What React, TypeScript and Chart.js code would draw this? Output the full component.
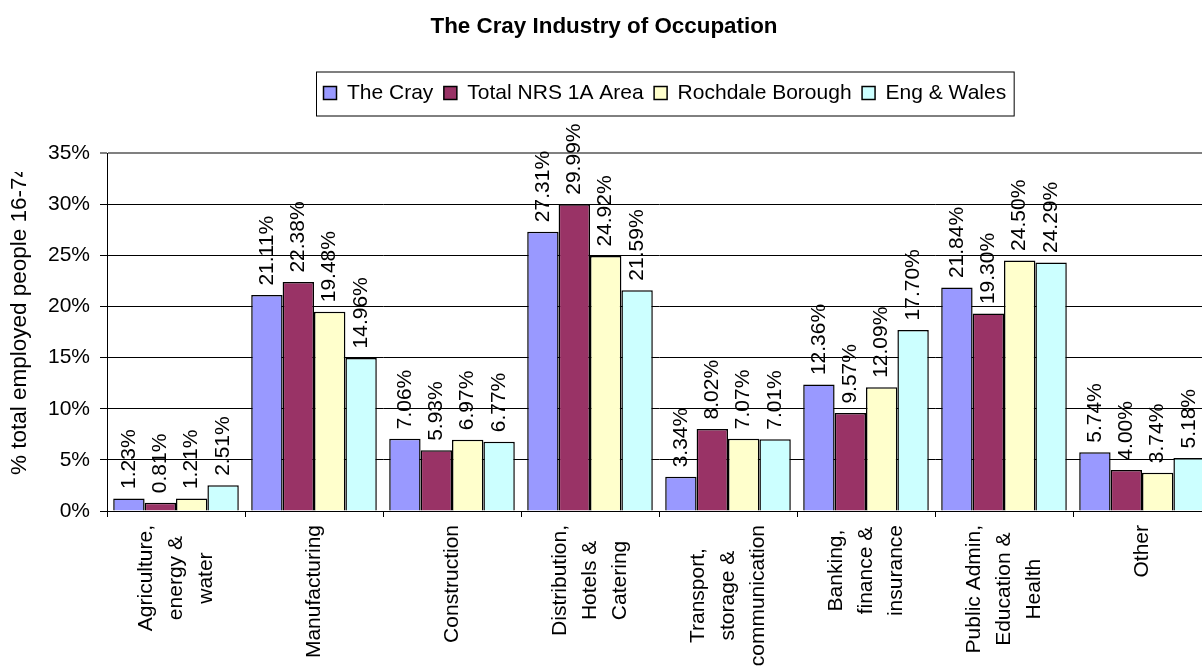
import React, { useEffect, useRef } from "react";
import { Chart, registerables } from "chart.js";

Chart.register(...registerables);

const TITLE = "The Cray Industry of Occupation";
const Y_TITLE = "% total employed people 16-74";

const CATEGORY_LINES: string[][] = [
  ["Agriculture,", "energy &", "water"],
  ["Manufacturing"],
  ["Construction"],
  ["Distribution,", "Hotels &", "Catering"],
  ["Transport,", "storage &", "communication"],
  ["Banking,", "finance &", "insurance"],
  ["Public Admin,", "Education &", "Health"],
  ["Other"],
];

const SERIES_NAMES = ["The Cray", "Total NRS 1A Area", "Rochdale Borough", "Eng & Wales"];
const SERIES_COLORS = ["#9999FF", "#993366", "#FFFFCC", "#CCFFFF"];

const THE_CRAY = [1.23, 21.11, 7.06, 27.31, 3.34, 12.36, 21.84, 5.74];
const TOTAL_NRS = [0.81, 22.38, 5.93, 29.99, 8.02, 9.57, 19.3, 4.0];
const ROCHDALE = [1.21, 19.48, 6.97, 24.92, 7.07, 12.09, 24.5, 3.74];
const ENG_WALES = [2.51, 14.96, 6.77, 21.59, 7.01, 17.7, 24.29, 5.18];

const Y_MIN = 0;
const Y_MAX = 35;
const Y_STEP = 5;

const FONT = "'Liberation Sans', Arial, sans-serif";
const CANVAS_W = 1240;
const CANVAS_H = 666;

const customDraw = {
  id: "customDraw",
  afterDatasetsDraw(chart: any) {
    const ctx = chart.ctx;
    ctx.save();
    ctx.fillStyle = "#000";
    ctx.font = `21px ${FONT}`;
    ctx.textAlign = "left";
    ctx.textBaseline = "middle";
    chart.data.datasets.forEach((ds: any, di: number) => {
      const meta = chart.getDatasetMeta(di);
      meta.data.forEach((bar: any, i: number) => {
        const v = ds.data[i];
        ctx.save();
        ctx.translate(bar.x, bar.y - 9.5);
        ctx.rotate(-Math.PI / 2);
        ctx.fillText(v.toFixed(2) + "%", 0, 0);
        ctx.restore();
      });
    });
    ctx.restore();
  },
  afterDraw(chart: any) {
    const ctx = chart.ctx;
    ctx.save();
    ctx.fillStyle = "#000";

    // Title
    ctx.font = `bold 22.4px ${FONT}`;
    ctx.textAlign = "center";
    ctx.textBaseline = "alphabetic";
    ctx.fillText(TITLE, 604, 32.5);

    // Legend
    ctx.font = `21px ${FONT}`;
    ctx.textAlign = "left";
    ctx.textBaseline = "alphabetic";
    let x = 323;
    const itemEnds: number[] = [];
    SERIES_NAMES.forEach((name, i) => {
      ctx.fillStyle = SERIES_COLORS[i];
      ctx.fillRect(x + 0.5, 86.5, 13, 13);
      ctx.strokeStyle = "#000";
      ctx.lineWidth = 1.5;
      ctx.strokeRect(x + 0.5, 86.5, 13, 13);
      ctx.fillStyle = "#000";
      ctx.fillText(name, x + 24, 99.3);
      const w = ctx.measureText(name).width;
      itemEnds.push(x + 24 + w);
      x = x + 24 + w + 10;
    });
    const boxRight = itemEnds[itemEnds.length - 1] + 8;
    ctx.strokeStyle = "#000";
    ctx.lineWidth = 1;
    ctx.strokeRect(316.5, 72, boxRight - 316.5, 44);

    // Y axis title (clipped at top as in the original)
    ctx.save();
    ctx.beginPath();
    ctx.rect(0, 172, 60, 400);
    ctx.clip();
    ctx.font = `22.5px ${FONT}`;
    ctx.translate(20, 320);
    ctx.rotate(-Math.PI / 2);
    ctx.textAlign = "center";
    ctx.textBaseline = "middle";
    ctx.fillText(Y_TITLE, 0, 0);
    ctx.restore();

    // Category labels (rotated, multi-line, centred lines)
    const xs = chart.scales.x;
    ctx.font = `21px ${FONT}`;
    ctx.textAlign = "center";
    ctx.textBaseline = "middle";
    const pitch = 30;
    CATEGORY_LINES.forEach((lines, i) => {
      const cx = xs.getPixelForValue(i);
      const maxW = Math.max(...lines.map((l) => ctx.measureText(l).width));
      const cy = xs.bottom - 155 + 14 + maxW / 2;
      lines.forEach((line, k) => {
        const lx = cx + (k - (lines.length - 1) / 2) * pitch;
        ctx.save();
        ctx.translate(lx, cy);
        ctx.rotate(-Math.PI / 2);
        ctx.fillText(line, 0, 0);
        ctx.restore();
      });
    });
    ctx.restore();
  },
};

export default function App() {
  const ref = useRef<HTMLCanvasElement>(null);
  useEffect(() => {
    if (!ref.current) return;
    const datasets = [THE_CRAY, TOTAL_NRS, ROCHDALE, ENG_WALES].map((d, i) => ({
      label: SERIES_NAMES[i],
      data: d,
      backgroundColor: SERIES_COLORS[i],
      borderColor: "#000",
      borderWidth: 1.5,
      categoryPercentage: 0.91,
      barPercentage: 1,
    }));
    const chart = new Chart(ref.current, {
      type: "bar",
      data: {
        labels: CATEGORY_LINES.map((l) => l.join(" ")),
        datasets,
      },
      options: {
        animation: false,
        responsive: false,
        devicePixelRatio: 1,
        layout: { padding: { left: 0, right: CANVAS_W - 1211, top: 153, bottom: 0 } },
        plugins: {
          legend: { display: false },
          title: { display: false },
          tooltip: { enabled: false },
        },
        scales: {
          x: {
            afterFit: (s: any) => {
              s.height = CANVAS_H - 511;
            },
            ticks: { display: false },
            grid: {
              display: true,
              offset: true,
              drawOnChartArea: false,
              drawTicks: true,
              tickLength: 6,
              color: "#000",
            },
            border: { display: true, color: "#000", width: 1 },
          },
          y: {
            min: Y_MIN,
            max: Y_MAX,
            afterFit: (s: any) => {
              s.width = 107;
            },
            ticks: {
              stepSize: Y_STEP,
              color: "#000",
              font: { family: FONT, size: 21 },
              padding: 10,
              callback: (v: any) => v + "%",
            },
            grid: {
              drawTicks: true,
              tickLength: 7,
              color: (c: any) => (c.tick && c.tick.value === Y_MAX ? "#808080" : "#000"),
              lineWidth: (c: any) => (c.tick && c.tick.value === Y_MAX ? 2 : 1),
            },
            border: { display: true, color: "#000", width: 1 },
          },
        },
      },
      plugins: [customDraw],
    });
    return () => chart.destroy();
  }, []);
  return (
    <div
      style={{
        position: "fixed",
        left: 0,
        top: 0,
        width: 1202,
        height: 666,
        overflow: "hidden",
        background: "#fff",
      }}
    >
      <canvas ref={ref} width={CANVAS_W} height={CANVAS_H} style={{ display: "block" }} />
    </div>
  );
}
